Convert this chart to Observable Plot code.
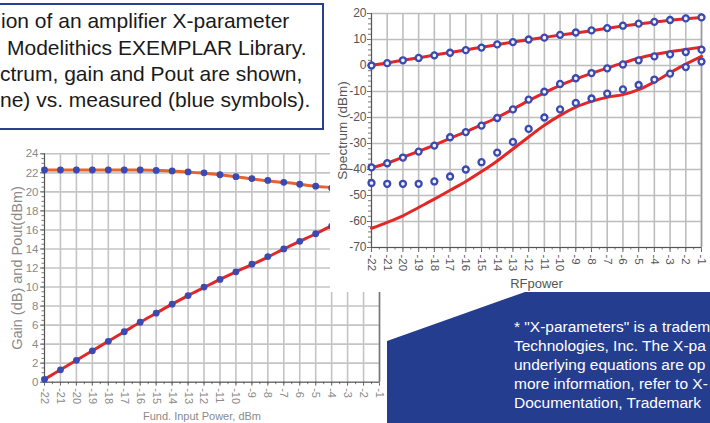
<!DOCTYPE html>
<html><head><meta charset="utf-8">
<script src="https://cdn.jsdelivr.net/npm/d3@7"></script>
<script src="https://cdn.jsdelivr.net/npm/@observablehq/plot@0.6"></script>
<style>
html,body{margin:0;padding:0;background:#fff;}
body{width:710px;height:423px;overflow:hidden;position:relative;font-family:"Liberation Sans",Arial,sans-serif;}
#left{position:absolute;left:0;top:140px;z-index:1}
#right{position:absolute;left:330px;top:0;z-index:2;background:#fff}
#box{position:absolute;left:-20px;top:3px;width:344px;height:126.5px;box-sizing:border-box;border:2px solid #2c3f8f;background:#fff;z-index:3}
.bl{position:absolute;white-space:nowrap;font-size:21px;line-height:21px;color:#1a1a1a;z-index:4}
#poly{position:absolute;left:0;top:0;width:710px;height:423px;z-index:5;background:#253d8f;
  clip-path:polygon(387px 341px,525px 292px,710px 292px,710px 423px,387px 423px)}
.nl{position:absolute;white-space:nowrap;color:#fff;font-size:15.5px;line-height:15.5px;z-index:6}
</style>
</head><body>
<div id="left"></div>
<div id="right"></div>
<div id="box"></div>
<div class="bl" style="left:1px;top:10.2px">ion of an amplifier X-parameter</div>
<div class="bl" style="left:7px;top:36.5px"> Modelithics EXEMPLAR Library.</div>
<div class="bl" style="left:0px;top:62.8px">ctrum, gain and Pout are shown,</div>
<div class="bl" style="left:0px;top:89.2px">ne) vs. measured (blue symbols).</div>
<div id="poly"></div>
<div class="nl" style="left:514px;top:319.4px">* "X-parameters" is a tradem</div>
<div class="nl" style="left:514px;top:338.2px">Technologies, Inc. The X-pa</div>
<div class="nl" style="left:514px;top:356.9px">underlying equations are op</div>
<div class="nl" style="left:514px;top:375.7px">more information, refer to X-</div>
<div class="nl" style="left:514px;top:394.5px">Documentation, Trademark</div>
<script>
// ---- Spectrum chart (right) ----
const rfPower = [-22,-21,-20,-19,-18,-17,-16,-15,-14,-13,-12,-11,-10,-9,-8,-7,-6,-5,-4,-3,-2,-1];
const fundMeas = [0,0.9,2.0,2.9,3.9,4.9,5.9,6.9,8.1,9.0,10.0,10.7,11.8,12.7,13.5,14.4,15.3,16.1,16.8,17.5,18.1,18.5];
const fundSim  = [0.1,1.0,2.0,3.0,4.0,5.0,6.0,7.0,8.0,9.0,9.9,10.8,11.7,12.5,13.4,14.3,15.2,16.0,16.7,17.4,18.0,18.5];
const h3Meas = [-39.2,-37.6,-35.4,-33.1,-30.8,-27.6,-25.6,-23.1,-20.2,-16.9,-13.1,-10.1,-7.1,-4.9,-2.9,-1.1,0.4,2.0,3.5,4.3,5.2,6.1];
const h3Sim  = [-39.5,-37.5,-35.3,-33.0,-30.6,-28.0,-25.5,-22.8,-20.0,-16.8,-13.5,-10.5,-7.6,-5.2,-3.0,-1.0,1.0,2.8,4.2,5.3,6.2,7.0];
const h5Meas = [-45.2,-45.5,-45.5,-45.5,-44.6,-42.7,-40.0,-37.2,-33.5,-29.4,-24.4,-20.0,-16.9,-14.4,-12.7,-10.8,-9.2,-7.5,-5.4,-3.1,-0.6,1.5];
const h5Sim  = [-62.6,-60.3,-57.8,-54.6,-51.4,-48.0,-44.6,-40.8,-36.7,-32.1,-27.5,-23.0,-19.2,-16.0,-13.8,-12.2,-11.2,-9.3,-6.3,-2.8,0.5,3.5];
const specTicks = [-70,-60,-50,-40,-30,-20,-10,0,10,20];

// ---- Gain / Pout chart (left) ----
const gainPin  = [-22,-21,-20,-19,-18,-17,-16,-15,-14,-13,-12,-11,-10,-9,-8,-7,-6,-5,-4];
const gainMeas = [22.3,22.3,22.3,22.3,22.3,22.3,22.3,22.25,22.2,22.1,22.0,21.8,21.6,21.4,21.2,21.0,20.8,20.6,20.4];
const poutMeas = [0.3,1.3,2.3,3.3,4.3,5.3,6.3,7.25,8.2,9.1,10.0,10.8,11.6,12.4,13.2,14.0,14.8,15.6,16.4];
const simPin   = [-22,-21,-20,-19,-18,-17,-16,-15,-14,-13,-12,-11,-10,-9,-8,-7,-6,-5,-4,-3];
const gainSim  = [22.3,22.3,22.3,22.3,22.3,22.3,22.3,22.25,22.2,22.1,21.95,21.8,21.6,21.35,21.15,21.0,20.8,20.6,20.45,20.3];
const poutSim  = [0.3,1.3,2.3,3.3,4.3,5.3,6.3,7.25,8.2,9.1,9.95,10.8,11.6,12.35,13.15,14.0,14.8,15.6,16.45,17.3];
const gainTicks = [0,2,4,6,8,10,12,14,16,18,20,22,24];

const FONT = "Liberation Sans, Arial, sans-serif";
const zip = (xs, ys, s) => xs.map((x, i) => ({x, y: ys[i], s}));

const specLines = [...zip(rfPower, fundSim, "f"), ...zip(rfPower, h3Sim, "h3"), ...zip(rfPower, h5Sim, "h5")];
const specDots = [...zip(rfPower, fundMeas, "f"), ...zip(rfPower, h3Meas, "h3"), ...zip(rfPower, h5Meas, "h5")];
const minorX = d3.range(-22, -0.99, 0.5);

const right = Plot.plot({
  width: 380, height: 292,
  marginLeft: 41, marginRight: 9, marginTop: 13, marginBottom: 45,
  style: {background: "white", fontFamily: FONT, color: "#555", overflow: "visible"},
  x: {domain: [-22, -1], label: null},
  y: {domain: [-70, 20], label: null},
  marks: [
    Plot.gridX(rfPower, {stroke: "#bdbdbd", strokeOpacity: 1, strokeWidth: 1.6}),
    Plot.gridY(specTicks, {stroke: "#bdbdbd", strokeOpacity: 1, strokeWidth: 1.6}),
    Plot.axisY(specTicks, {tickSize: 4, tickPadding: 1, tickFormat: d => String(d), fontSize: 12, stroke: "#666", fill: "#555", label: null}),
    Plot.axisY(d3.range(-70, 20.1, 2), {tickSize: 3, tickFormat: () => "", stroke: "#777", label: null}),
    Plot.axisX(rfPower, {tickSize: 5, tickPadding: 2, tickRotate: 90, tickFormat: d => String(d), fontSize: 11.5, stroke: "#666", fill: "#555", label: null}),
    Plot.axisX(minorX, {tickSize: 2.5, tickFormat: () => "", stroke: "#777", label: null}),
    Plot.ruleX([-1], {stroke: "#9a9a9a", strokeWidth: 1.5}),
    Plot.ruleX([-22], {stroke: "#555"}),
    Plot.ruleY([-70], {stroke: "#555"}),
    Plot.line(specLines, {x: "x", y: "y", z: "s", stroke: "#e32626", strokeWidth: 3, curve: "monotone-x"}),
    Plot.dot(specDots, {x: "x", y: "y", r: 3, stroke: "#3a4ab0", strokeWidth: 2.3, fill: "#eef0fb"}),
    Plot.text(["Spectrum (dBm)"], {frameAnchor: "left", dx: -29, rotate: -90, textAnchor: "middle", lineAnchor: "middle", fontSize: 13.5, fill: "#555"}),
    Plot.text(["RFpower"], {frameAnchor: "bottom", dy: 36, textAnchor: "middle", lineAnchor: "middle", fontSize: 13, fill: "#555"})
  ]
});
document.getElementById("right").append(right);

const left = Plot.plot({
  width: 385, height: 283,
  marginLeft: 44, marginRight: 6, marginTop: 13.3, marginBottom: 41.3,
  style: {background: "white", fontFamily: FONT, color: "#8a8a8a", overflow: "visible"},
  x: {domain: [-22, -1], label: null},
  y: {domain: [0, 24], label: null},
  marks: [
    Plot.gridX(rfPower, {stroke: "#c4c4c4", strokeOpacity: 1, strokeWidth: 1.6}),
    Plot.gridY(gainTicks, {stroke: "#c4c4c4", strokeOpacity: 1, strokeWidth: 1.6}),
    Plot.axisY(gainTicks, {tickSize: 4, tickPadding: 2, tickFormat: d => String(d), fontSize: 11.5, stroke: "#666", fill: "#8a8a8a", label: null}),
    Plot.axisY(d3.range(0, 24.01, 0.5), {tickSize: 2.5, tickFormat: () => "", stroke: "#777", label: null}),
    Plot.axisX(rfPower, {tickSize: 4, tickPadding: 2, tickRotate: 90, tickFormat: d => String(d), fontSize: 11, stroke: "#666", fill: "#8a8a8a", label: null}),
    Plot.axisX(minorX, {tickSize: 2.5, tickFormat: () => "", stroke: "#777", label: null}),
    Plot.ruleX([-1], {stroke: "#777", strokeWidth: 1.5}),
    Plot.ruleX([-22], {stroke: "#555"}),
    Plot.ruleY([0], {stroke: "#555"}),
    Plot.line(zip(simPin, gainSim), {x: "x", y: "y", stroke: "#e8622c", strokeWidth: 3, curve: "monotone-x"}),
    Plot.line(zip(simPin, poutSim), {x: "x", y: "y", stroke: "#e02828", strokeWidth: 3, curve: "monotone-x"}),
    Plot.dot(zip(gainPin, gainMeas), {x: "x", y: "y", r: 3.4, fill: "#3a4ab0"}),
    Plot.dot(zip(gainPin, poutMeas), {x: "x", y: "y", r: 3.4, fill: "#3a4ab0"}),
    Plot.text(["Gain (dB) and Pout(dBm)"], {frameAnchor: "left", dx: -27, rotate: -90, textAnchor: "middle", lineAnchor: "middle", fontSize: 14.5, fill: "#8a8a8a"}),
    Plot.text(["Fund. Input Power, dBm"], {frameAnchor: "bottom", dx: -10, dy: 34.3, textAnchor: "middle", lineAnchor: "middle", fontSize: 11, fill: "#8a8a8a"})
  ]
});
document.getElementById("left").append(left);
</script>
</body></html>
